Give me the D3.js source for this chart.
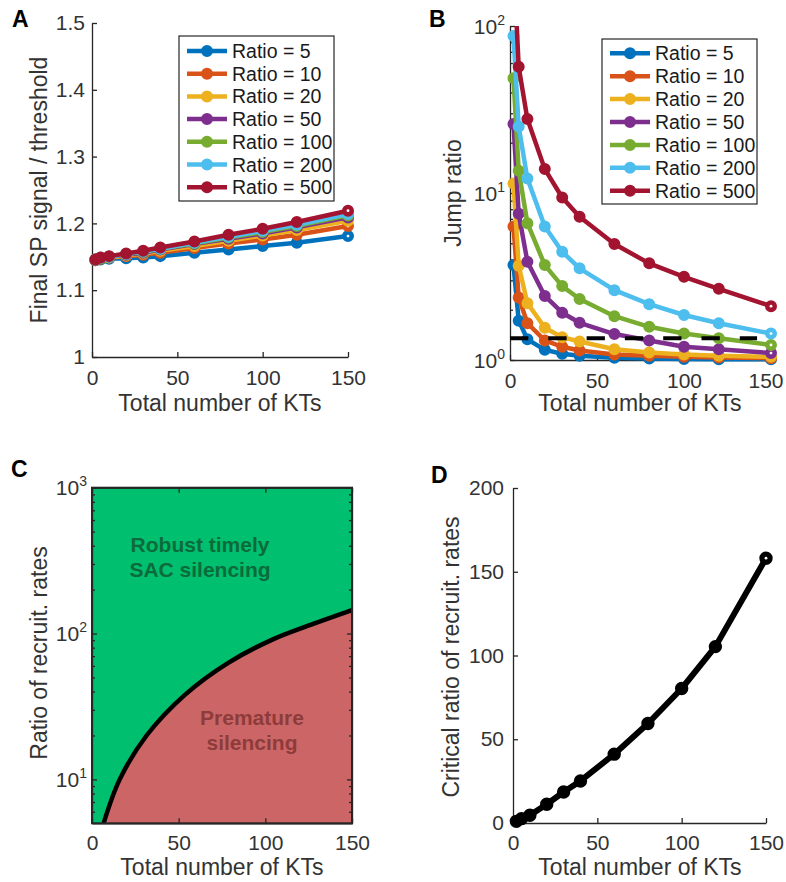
<!DOCTYPE html>
<html>
<head>
<meta charset="utf-8">
<script src="https://cdn.jsdelivr.net/npm/d3@7"></script>
<style>
  body { margin: 0; background: #fff; }
  svg { display: block; font-family: "Liberation Sans", Arial, Helvetica, sans-serif; }
</style>
</head>
<body>
<svg id="fig" width="786" height="882"></svg>
<script>
// ---- data ----
const kts = [2, 5, 10, 20, 30, 40, 60, 80, 100, 120, 150];
const ratioLabels = ["Ratio = 5", "Ratio = 10", "Ratio = 20", "Ratio = 50", "Ratio = 100", "Ratio = 200", "Ratio = 500"];
const seriesColors = ["#0072BD", "#D95319", "#EDB120", "#7E2F8E", "#77AC30", "#4DBEEE", "#A2142F"];

// Panel A: final SP signal / threshold
const signalR5   = [1.145, 1.146, 1.147, 1.148, 1.149, 1.151, 1.156, 1.161, 1.166, 1.171, 1.181];
const signalR10  = [1.145, 1.147, 1.149, 1.151, 1.153, 1.156, 1.163, 1.170, 1.176, 1.183, 1.196];
const signalR20  = [1.146, 1.148, 1.149, 1.152, 1.155, 1.159, 1.166, 1.174, 1.182, 1.190, 1.204];
const signalR50  = [1.146, 1.148, 1.150, 1.153, 1.156, 1.161, 1.169, 1.177, 1.185, 1.194, 1.209];
const signalR100 = [1.146, 1.148, 1.150, 1.154, 1.157, 1.162, 1.170, 1.179, 1.187, 1.196, 1.212];
const signalR200 = [1.146, 1.149, 1.150, 1.154, 1.158, 1.162, 1.171, 1.180, 1.189, 1.198, 1.214];
const signalR500 = [1.146, 1.149, 1.151, 1.155, 1.159, 1.164, 1.173, 1.183, 1.192, 1.202, 1.219];

// Panel B: jump ratio
const jumpR5   = [3.7, 1.72, 1.33, 1.15, 1.09, 1.06, 1.03, 1.02, 1.015, 1.01, 1.01];
const jumpR10  = [6.3, 2.37, 1.66, 1.31, 1.20, 1.14, 1.08, 1.06, 1.045, 1.035, 1.025];
const jumpR20  = [11.4, 3.67, 2.19, 1.56, 1.37, 1.29, 1.16, 1.11, 1.08, 1.06, 1.045];
const jumpR50  = [25.9, 7.5, 3.88, 2.42, 1.92, 1.67, 1.43, 1.31, 1.20, 1.16, 1.10];
const jumpR100 = [48.6, 13.6, 6.6, 3.7, 2.77, 2.32, 1.83, 1.58, 1.44, 1.35, 1.23];
const jumpR200 = [87, 25, 12.2, 6.3, 4.45, 3.54, 2.62, 2.16, 1.86, 1.66, 1.44];
const jumpR500 = [250, 57, 27.7, 13.9, 9.4, 7.2, 4.95, 3.79, 3.15, 2.67, 2.1];
const jumpThreshold = 1.35;

// Panel C: phase boundary between the two regimes
const boundaryKT    = [6.7, 16, 31.5, 53.6, 78.6, 105, 128, 150];
const boundaryRatio = [5, 10, 20, 38, 63, 92, 117, 145];

// Panel D: critical ratio of recruitment rates
const criticalRatio = [1.0, 2.6, 4.6, 11.2, 18.5, 25.1, 41.1, 59.4, 80.3, 105.3, 158.1];

// tick values
const xTicks = [0, 50, 100, 150];
const aTicks = [1, 1.1, 1.2, 1.3, 1.4, 1.5];
const dTicks = [0, 50, 100, 150, 200];

const signalSeries = [signalR5, signalR10, signalR20, signalR50, signalR100, signalR200, signalR500];
const jumpSeries = [jumpR5, jumpR10, jumpR20, jumpR50, jumpR100, jumpR200, jumpR500];

// ---- helpers ----
const svg = d3.select("#fig");
const AX = "#262626";
const TXT = "#333";
const TICK_FS = 21, LABEL_FS = 23;

function styleAxis(g) {
  g.selectAll(".domain").attr("stroke", AX).attr("stroke-width", 1.3);
  g.selectAll(".tick line").attr("stroke", AX).attr("stroke-width", 1.3);
  g.selectAll(".tick text").attr("fill", TXT).attr("font-size", TICK_FS)
    .attr("font-family", "Liberation Sans, Arial, sans-serif");
}

function xLabel(cx, baseline, text) {
  svg.append("text").attr("x", cx).attr("y", baseline).attr("text-anchor", "middle")
    .attr("font-size", LABEL_FS).attr("fill", TXT).text(text);
}
function yLabel(bx, cy, text) {
  svg.append("text").attr("transform", `translate(${bx},${cy}) rotate(-90)`)
    .attr("text-anchor", "middle").attr("font-size", LABEL_FS).attr("fill", TXT).text(text);
}
function panelLetter(x, y, t) {
  svg.append("text").attr("x", x).attr("y", y).attr("font-size", 23)
    .attr("font-weight", "bold").attr("fill", "#000").text(t);
}
// power-of-ten labels with a raised exponent
function powLabels(scale, values, xRight) {
  values.forEach(v => {
    const e = Math.round(Math.log10(v));
    const t = svg.append("text").attr("x", xRight).attr("y", scale(v) + 7.5)
      .attr("text-anchor", "end").attr("fill", TXT).attr("font-size", TICK_FS);
    t.append("tspan").text("10");
    t.append("tspan").attr("font-size", 14).attr("dy", -9).text(e);
  });
}
function logMinors(lo, hi) {
  const out = [];
  for (let d = Math.floor(Math.log10(lo)); d < Math.ceil(Math.log10(hi)); d++) {
    for (let m = 2; m <= 9; m++) {
      const v = m * Math.pow(10, d);
      if (v > lo && v < hi) out.push(v);
    }
  }
  return out;
}

function drawSeries(g, x, y, values, color, lw, r) {
  const pts = kts.map((k, i) => [k, values[i]]);
  const line = d3.line().x(d => x(d[0])).y(d => y(d[1]));
  g.append("path").datum(pts).attr("d", line).attr("fill", "none")
    .attr("stroke", color).attr("stroke-width", lw).attr("stroke-linejoin", "round");
  g.selectAll(null).data(pts).enter().append("circle")
    .attr("cx", d => x(d[0])).attr("cy", d => y(d[1])).attr("r", r)
    .attr("fill", color).attr("stroke", color).attr("stroke-width", 2.4);
  const last = pts[pts.length - 1];
  g.append("circle").attr("cx", x(last[0])).attr("cy", y(last[1])).attr("r", 1.4).attr("fill", "#fff");
}

function legend(x0, y0, w, h, firstY, step) {
  const g = svg.append("g");
  g.append("rect").attr("x", x0).attr("y", y0).attr("width", w).attr("height", h)
    .attr("fill", "#fff").attr("stroke", AX).attr("stroke-width", 1.2);
  ratioLabels.forEach((lab, i) => {
    const yy = firstY + i * step;
    g.append("line").attr("x1", x0 + 8).attr("x2", x0 + 48).attr("y1", yy).attr("y2", yy)
      .attr("stroke", seriesColors[i]).attr("stroke-width", 4.5);
    g.append("circle").attr("cx", x0 + 28).attr("cy", yy).attr("r", 4.8)
      .attr("fill", seriesColors[i]).attr("stroke", seriesColors[i]).attr("stroke-width", 2.4);
    g.append("text").attr("x", x0 + 53).attr("y", yy + 7).attr("font-size", 19.5)
      .attr("fill", "#1a1a1a").text(lab);
  });
}

// ---- Panel A ----
{
  const x = d3.scaleLinear().domain([0, 150]).range([92, 348]);
  const y = d3.scaleLinear().domain([1, 1.5]).range([357, 23]);
  svg.append("g").attr("transform", "translate(0,357)")
    .call(d3.axisBottom(x).tickValues(xTicks).tickSizeInner(-5).tickSizeOuter(0).tickPadding(13))
    .call(styleAxis);
  svg.append("g").attr("transform", "translate(92,0)")
    .call(d3.axisLeft(y).tickValues(aTicks).tickFormat(d3.format("~g")).tickSizeInner(-5).tickSizeOuter(0).tickPadding(7))
    .call(styleAxis);
  const g = svg.append("g");
  signalSeries.forEach((s, i) => drawSeries(g, x, y, s, seriesColors[i], 4.5, 4.8));
  legend(179, 36, 155, 165, 51, 22.7);
  xLabel(220, 411, "Total number of KTs");
  yLabel(47, 190, "Final SP signal / threshold");
  panelLetter(12, 27, "A");
}

// ---- Panel B ----
{
  const x = d3.scaleLinear().domain([0, 150]).range([510, 771]);
  const y = d3.scaleLog().domain([1, 100]).range([360, 26]);
  svg.append("defs").append("clipPath").attr("id", "clipB")
    .append("rect").attr("x", 500).attr("y", 26).attr("width", 286).attr("height", 340);
  const xa = svg.append("g").attr("transform", "translate(0,360)")
    .call(d3.axisBottom(x).tickValues(xTicks).tickSizeInner(-5).tickSizeOuter(0).tickPadding(13))
    .call(styleAxis);
  // keep the rightmost label inside the figure
  xa.selectAll(".tick text").filter(d => d === 150).attr("text-anchor", "end").attr("x", 12);
  svg.append("g").attr("transform", "translate(510,0)")
    .call(d3.axisLeft(y).tickValues([1, 10, 100]).tickFormat("").tickSizeInner(-5).tickSizeOuter(0))
    .call(styleAxis);
  svg.append("g").attr("transform", "translate(510,0)")
    .call(d3.axisLeft(y).tickValues(logMinors(1, 100)).tickFormat("").tickSizeInner(-3).tickSizeOuter(0))
    .call(styleAxis).call(g => g.select(".domain").remove());
  powLabels(y, [1, 10, 100], 505);
  const g = svg.append("g").attr("clip-path", "url(#clipB)");
  jumpSeries.forEach((s, i) => drawSeries(g, x, y, s, seriesColors[i], 4.5, 4.8));
  svg.append("line").attr("x1", x(0)).attr("x2", x(142)).attr("y1", y(jumpThreshold)).attr("y2", y(jumpThreshold))
    .attr("stroke", "#000").attr("stroke-width", 4).attr("stroke-dasharray", "18.3 20");
  legend(602, 39, 155, 165, 53.3, 22.9);
  xLabel(640, 411, "Total number of KTs");
  yLabel(461, 193, "Jump ratio");
  panelLetter(429, 27, "B");
}

// ---- Panel C ----
{
  const x = d3.scaleLinear().domain([0, 150]).range([92, 352]);
  const y = d3.scaleLog().domain([5, 1000]).range([823.3, 487.7]);
  const [x0, x1] = x.range(), [yb, yt] = y.range();
  svg.append("rect").attr("x", x0).attr("y", yt).attr("width", x1 - x0).attr("height", yb - yt)
    .attr("fill", "#00BF6F");
  const pts = boundaryKT.map((k, i) => [k, boundaryRatio[i]]);
  const curve = d3.curveCatmullRom.alpha(0.5);
  svg.append("path").datum(pts)
    .attr("d", d3.area().x(d => x(d[0])).y0(yb).y1(d => y(d[1])).curve(curve))
    .attr("fill", "#CC6666");
  svg.append("path").datum(pts)
    .attr("d", d3.line().x(d => x(d[0])).y(d => y(d[1])).curve(curve))
    .attr("fill", "none").attr("stroke", "#000").attr("stroke-width", 4.5);
  const regionText = (cx, base, text, color) =>
    svg.append("text").attr("x", cx).attr("y", base).attr("text-anchor", "middle")
      .attr("font-size", 21).attr("font-weight", "bold").attr("fill", color).text(text);
  regionText(200, 552, "Robust timely", "#0B6B3A");
  regionText(200, 577, "SAC silencing", "#0B6B3A");
  regionText(252, 725, "Premature", "#8E3B3B");
  regionText(252, 750, "silencing", "#8E3B3B");
  // axes on all four sides
  svg.append("g").attr("transform", `translate(0,${yb})`)
    .call(d3.axisBottom(x).tickValues(xTicks).tickSizeInner(-5).tickSizeOuter(0).tickPadding(12))
    .call(styleAxis);
  svg.append("g").attr("transform", `translate(0,${yt})`)
    .call(d3.axisTop(x).tickValues(xTicks).tickFormat("").tickSizeInner(-5).tickSizeOuter(0))
    .call(styleAxis);
  [[x0, d3.axisLeft], [x1, d3.axisRight]].forEach(([px, ax]) => {
    svg.append("g").attr("transform", `translate(${px},0)`)
      .call(ax(y).tickValues([10, 100, 1000]).tickFormat("").tickSizeInner(-5).tickSizeOuter(0))
      .call(styleAxis);
    svg.append("g").attr("transform", `translate(${px},0)`)
      .call(ax(y).tickValues(logMinors(5, 1000)).tickFormat("").tickSizeInner(-3).tickSizeOuter(0))
      .call(styleAxis).call(g => g.select(".domain").remove());
  });
  svg.append("rect").attr("x", x0).attr("y", yt).attr("width", x1 - x0).attr("height", yb - yt)
    .attr("fill", "none").attr("stroke", AX).attr("stroke-width", 2);
  powLabels(y, [10, 100, 1000], 87);
  xLabel(222, 875, "Total number of KTs");
  yLabel(47, 653, "Ratio of recruit. rates");
  panelLetter(11, 477, "C");
}

// ---- Panel D ----
{
  const x = d3.scaleLinear().domain([0, 150]).range([513, 766]);
  const y = d3.scaleLinear().domain([0, 200]).range([823, 488]);
  svg.append("g").attr("transform", "translate(0,823)")
    .call(d3.axisBottom(x).tickValues(xTicks).tickSizeInner(-5).tickSizeOuter(0).tickPadding(12))
    .call(styleAxis);
  svg.append("g").attr("transform", "translate(513,0)")
    .call(d3.axisLeft(y).tickValues(dTicks).tickSizeInner(-5).tickSizeOuter(0).tickPadding(9))
    .call(styleAxis);
  const g = svg.append("g");
  drawSeries(g, x, y, criticalRatio, "#000", 6, 5.5);
  xLabel(640, 875, "Total number of KTs");
  yLabel(459, 657, "Critical ratio of recruit. rates");
  panelLetter(431, 483, "D");
}
</script>
</body>
</html>
